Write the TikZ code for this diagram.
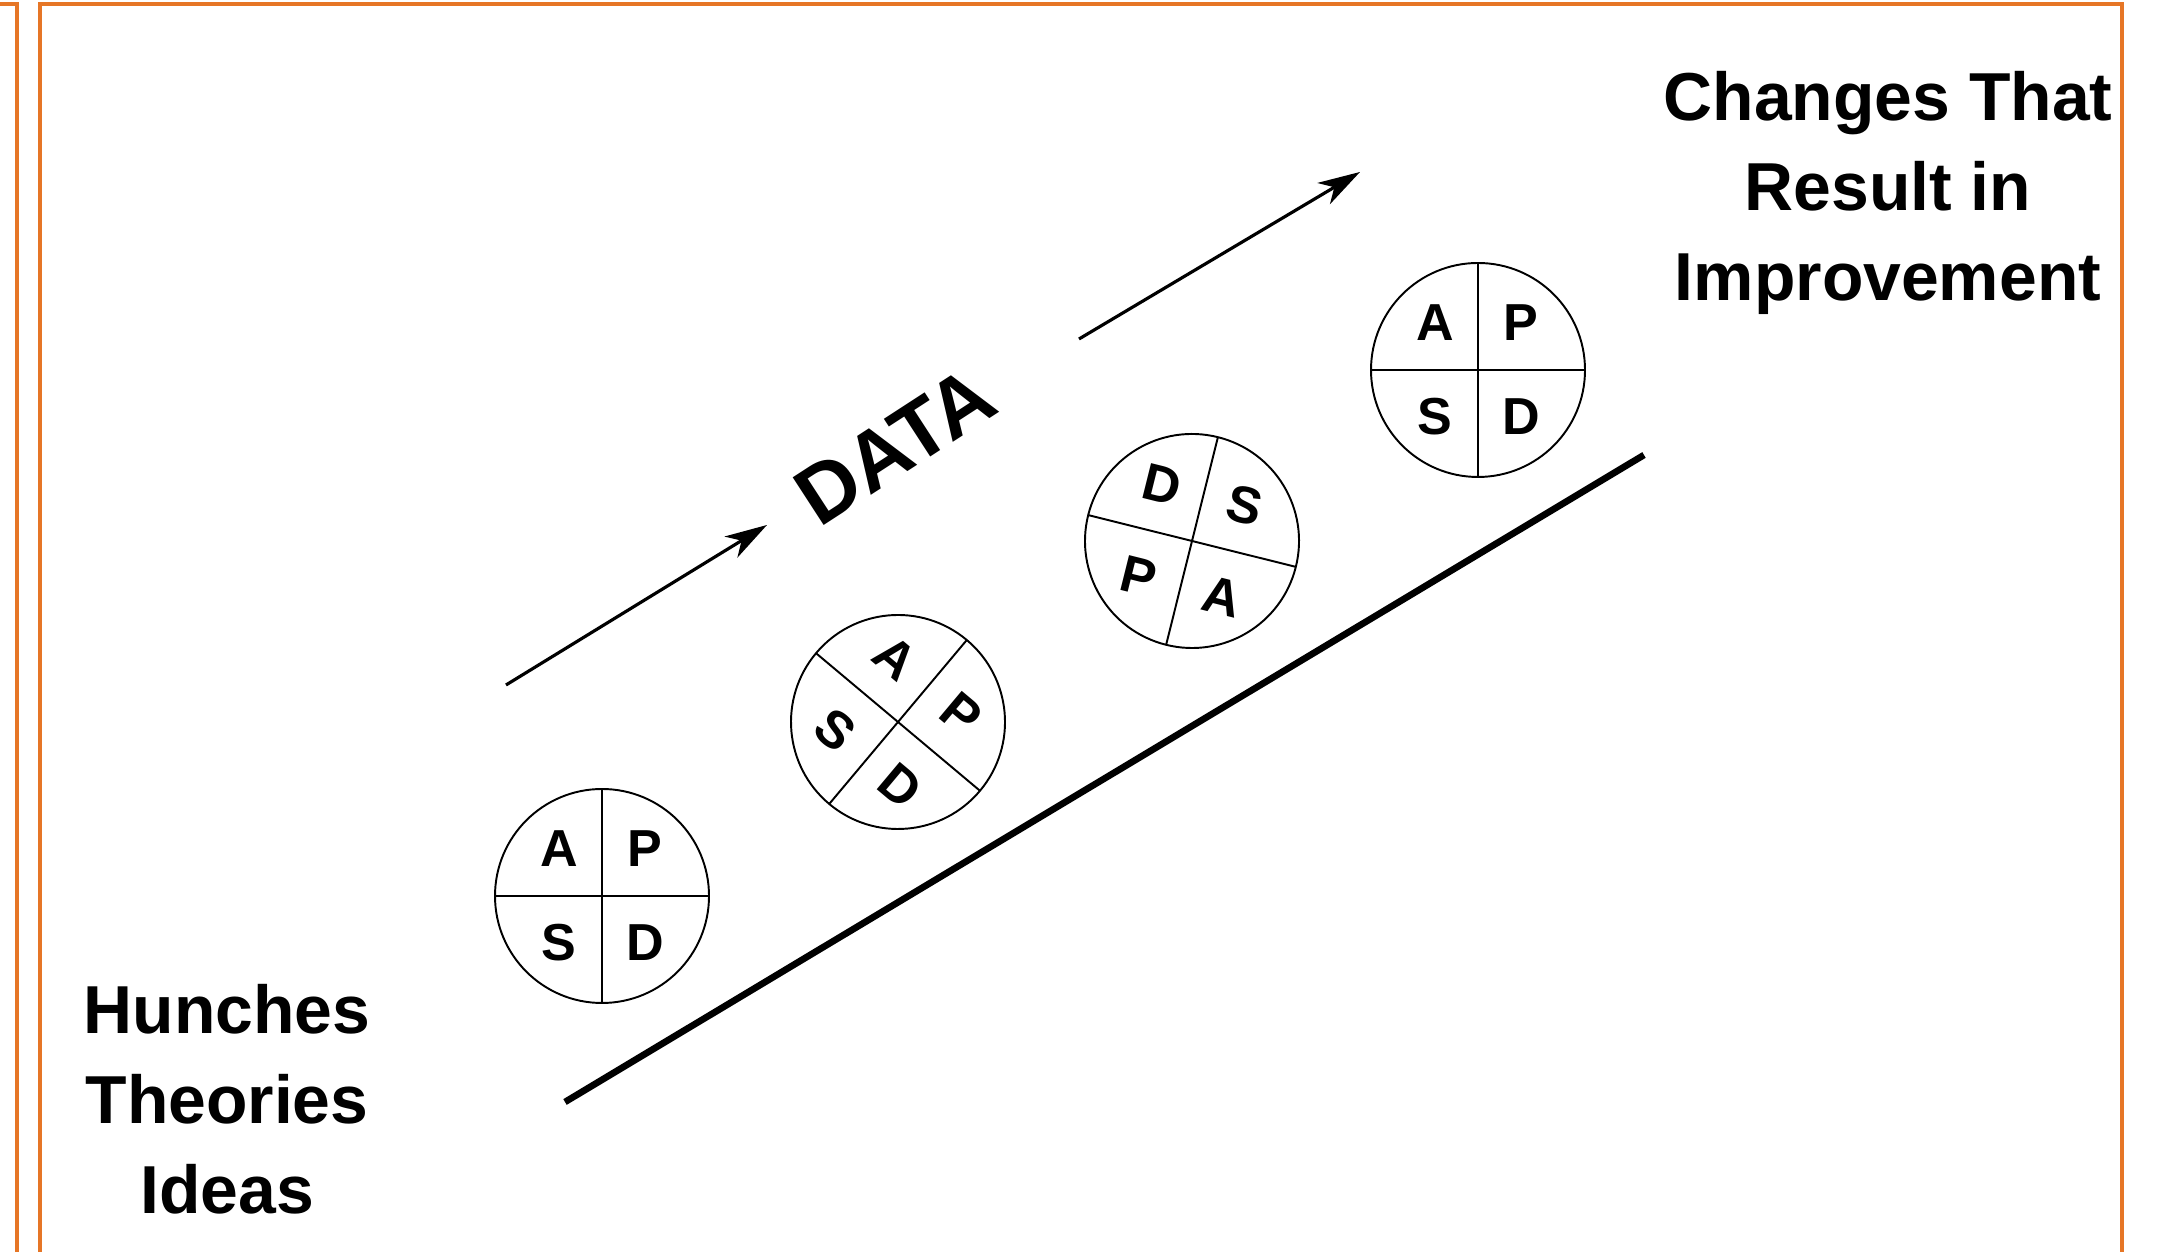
\documentclass[tikz,border=0pt]{standalone}
\usepackage{fontspec}
\setmainfont{Liberation Sans}
\usetikzlibrary{arrows.meta}

\definecolor{frameorange}{RGB}{230,118,38}

\begin{document}
\begin{tikzpicture}[x=0.01cm, y=0.01cm,
    lbl/.style={font=\fontsize{19.3}{25.6}\selectfont\bfseries, align=center, inner sep=0pt},
    letter/.style={font=\fontsize{14.8}{16}\selectfont\bfseries, inner sep=0pt},
    flow/.style={-{Stealth[length=12pt, width=7pt, inset=3.5pt]}, line width=0.9pt}]

% Parameters
\def\rad{107}   % radius of a PDSA circle
\def\lx{43}     % horizontal letter offset
\def\ly{47}     % vertical letter offset

\useasboundingbox (0,0) rectangle (2161,1252);

% Page frames
\draw[frameorange, line width=0.9pt] (0,1248) -- (17,1248) -- (17,0);
\draw[frameorange, line width=0.9pt] (40,0) -- (40,1248) -- (2122,1248) -- (2122,0);

% Rising base line
\coordinate (lo) at (565,150);
\coordinate (hi) at (1644,797);
\draw[line width=1.9pt] (lo) -- (hi);

% PDSA circles: number/x/y/turn/letters UL,UR,LL,LR
\foreach \n/\cx/\cy/\rot/\ul/\ur/\ll/\lr in {
    1/602/356/0/A/P/S/D,
    2/898/530/-40/A/P/S/D,
    3/1192/711/-14/D/S/P/A,
    4/1478/882/0/A/P/S/D} {
  \begin{scope}[shift={(\cx,\cy)}, rotate=\rot, transform shape]
    \draw[line width=0.55pt] (0,0) circle (\rad);
    \draw[line width=0.55pt] (-\rad,0) -- (\rad,0) (0,-\rad) -- (0,\rad);
    \node[letter] (c\n-ul) at (-\lx,\ly) {\ul};
    \node[letter] (c\n-ur) at (\lx,\ly) {\ur};
    \node[letter] (c\n-ll) at (-\lx,-\ly) {\ll};
    \node[letter] (c\n-lr) at (\lx,-\ly) {\lr};
  \end{scope}
}

% Data arrows
\coordinate (a1s) at (506,567);
\coordinate (a1e) at (767,727);
\coordinate (a2s) at (1079,913);
\coordinate (a2e) at (1360,1080);
\draw[flow] (a1s) -- (a1e);
\draw[flow] (a2s) -- (a2e);

\node[font=\fontsize{23.5}{27}\selectfont\bfseries, inner sep=0pt, rotate=33] (data) at (895,806) {DATA};

% Start and end labels
\node[lbl, anchor=north] (start) at (227,268) {Hunches\\Theories\\Ideas};
\node[lbl, anchor=north] (goal) at (1888,1181) {Changes That\\Result in\\Improvement};

\end{tikzpicture}
\end{document}
